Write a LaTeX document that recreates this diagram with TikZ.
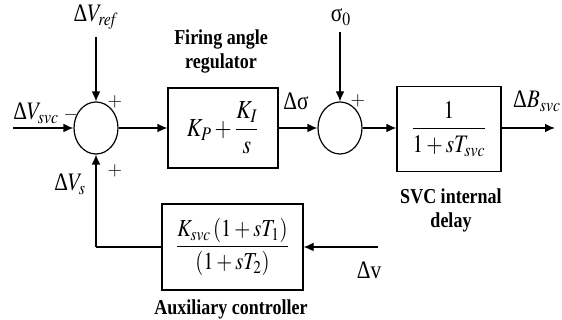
\documentclass[tikz,border=0pt]{standalone}
\usepackage{amsmath,amssymb}
\usepackage{mathptmx}
\usepackage{fontspec}
\setmainfont{Liberation Serif}
\usetikzlibrary{shapes.geometric,arrows.meta}

\newcommand{\vstretch}[1]{\scalebox{1}[1.18]{#1}}

\tikzset{
  sumnode/.style={draw, ellipse, line width=0.9pt, minimum width=33pt, minimum height=39pt, inner sep=0pt},
  blockbox/.style={draw, rectangle, line width=0.9pt, inner sep=0pt},
  sig/.style={line width=0.9pt, -{Latex[length=7.5pt,width=6.5pt]}},
  wire/.style={line width=0.9pt},
  lbl/.style={font=\fontsize{16}{19}\selectfont},
  sgn/.style={font=\fontsize{14}{16}\selectfont},
  blocklabel/.style={font=\fontsize{13.5}{18}\selectfont\bfseries, align=center}
}

\begin{document}
\begin{tikzpicture}[x=0.75pt,y=0.75pt,yscale=-1,xscale=1]
                \useasboundingbox (0,0) rectangle (562,320);
                
                %Shape: Sum junctions
                \node[sumnode] (sumV) at (96,128) {};
                \node[sumnode] (sumS) at (340,128) {};
                
                %Shape: Blocks
                \node[blockbox, minimum width=82.5pt, minimum height=60pt] (regul) at (223,128) {\vstretch{\fontsize{16.5}{19}\selectfont $K_P+\dfrac{K_I}{s}$}};
                \node[blockbox, minimum width=78pt, minimum height=63.5pt] (delay) at (449,129) {\vstretch{\fontsize{16}{19}\selectfont $\dfrac{1}{1+sT_{\mathit{svc}}}$}};
                \node[blockbox, minimum width=105.75pt, minimum height=64.5pt] (auxc) at (232.5,247) {\vstretch{\fontsize{15.5}{19}\selectfont $\dfrac{K_{\mathit{svc}}\,(1+sT_1)}{(1+sT_2)}$}};
                
                %Free ends
                \coordinate (inV) at (13,128);
                \coordinate (inRef) at (96,37);
                \coordinate (inSig) at (340,32);
                \coordinate (outB) at (555,128);
                \coordinate (inDv) at (378,247);
                \coordinate (fbCorner) at (96,247);
                
                %Straight Lines
                \draw[sig] (inV) -- (sumV);
                \draw[sig] (inRef) -- (sumV);
                \draw[sig] (sumV) -- (regul);
                \draw[sig] (regul) -- (sumS);
                \draw[sig] (inSig) -- (sumS);
                \draw[sig] (sumS.east) -- (sumS.east -| delay.west);
                \draw[sig] (delay.east |- outB) -- (outB);
                \draw[sig] (inDv) -- (auxc.east);
                \draw[wire] (auxc.west) -- (fbCorner);
                \draw[sig] (fbCorner) -- (sumV.south);
                
                % Text Node
                \node[lbl] (tV) at (36,113) {\vstretch{Δ$V_{\mathit{svc}}$}};
                \node[lbl] (tRef) at (96,17) {\vstretch{Δ$V_{\mathit{ref}}$}};
                \node[lbl] (tVs) at (70,184) {\vstretch{Δ$V_s$}};
                \node[lbl] (tSig) at (296,101) {\vstretch{Δσ}};
                \node[lbl] (tSig0) at (341,17) {\vstretch{σ$_0$}};
                \node[lbl] (tB) at (537,101) {\vstretch{Δ$B_{\mathit{svc}}$}};
                \node[lbl] (tDv) at (369,270) {\vstretch{Δv}};
                % Text Node
                \node[sgn] (mV) at (71,115) {$-$};
                \node[sgn] (pRef) at (115,102) {$+$};
                \node[sgn] (pVs) at (115,171) {$+$};
                \node[sgn] (pSig) at (358,101) {$+$};
                % Text Node
                \node[blocklabel] (cRegul) at (221,51) {\vstretch{Firing angle}\\\vstretch{regulator}};
                \node[blocklabel] (cDelay) at (451,210) {\vstretch{SVC internal}\\\vstretch{delay}};
                \node[blocklabel] (cAux) at (231,309) {\vstretch{Auxiliary controller}};
                
                \end{tikzpicture}
\end{document}
